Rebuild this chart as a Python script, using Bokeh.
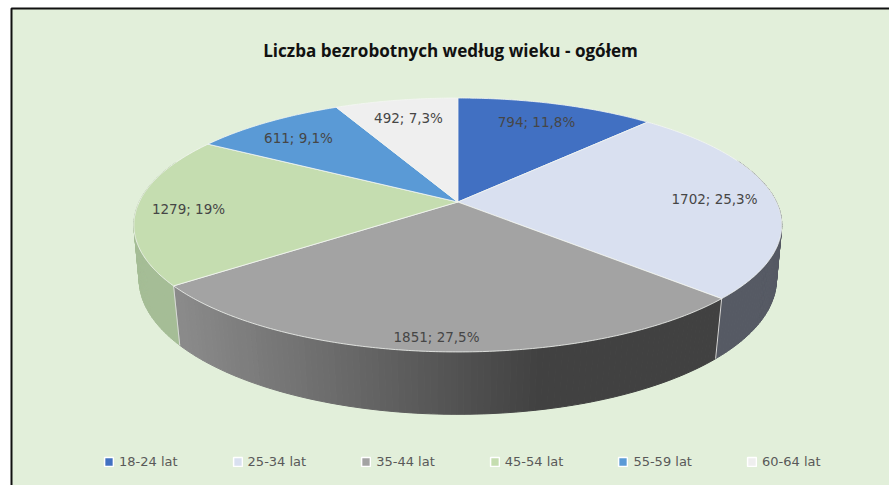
import math
from bokeh.plotting import figure
from bokeh.models import Range1d, Legend, LegendItem
from bokeh.core.properties import value
from bokeh.embed import file_html
from bokeh.resources import INLINE

# ---- data
title = "Liczba bezrobotnych według wieku - ogółem"
categories = ["18-24 lat", "25-34 lat", "35-44 lat", "45-54 lat", "55-59 lat", "60-64 lat"]
counts = [794, 1702, 1851, 1279, 611, 492]
percents = ["11,8%", "25,3%", "27,5%", "19%", "9,1%", "7,3%"]

# ---- styles / layout
top_colors = ["#4170C2", "#D9E0F0", "#A3A3A3", "#C5DDB0", "#5A9AD6", "#EFEFEF"]
wall_colors = ["#2F5290", "#565A64", "#5A5A5A", "#A5BD96", "#3F72A0", "#B0B0B0"]
label_x = [536, 714, 436, 188, 298, 408]
label_y = [121, 198, 336, 208, 137, 117]
BG = "#E2EFDA"
W, H = 889, 485

TOP = dict(cx=457.3, cy=201.5, A=318.6, B=122.8, a=0.181)
LOW = dict(cx=457.3, cy=256.0, A=314.0, B=131.0, a=0.170)


def project(deg, d):
    """Clockwise angle from 12 o'clock on the disc -> page pixel, in perspective."""
    t = math.radians(deg)
    u, v = math.sin(t), math.cos(t)
    w = 1 + d["a"] * v
    return d["cx"] + d["A"] * u / w, d["cy"] - d["B"] * v / w


def arc(start, stop, step=1.0):
    n = max(2, int(math.ceil((stop - start) / step)) + 1)
    return [start + (stop - start) * i / (n - 1) for i in range(n)]


def wall_color(i, x):
    if i != 2:
        return wall_colors[i]
    g = 138 - (x - 180) * (138 - 65) / (540 - 180)
    g = int(round(max(65, min(138, g))))
    return f"#{g:02x}{g:02x}{g:02x}"


p = figure(width=W, height=H, output_backend="svg", toolbar_location=None,
           x_range=Range1d(0, W), y_range=Range1d(H, 0),
           x_axis_type=None, y_axis_type=None, min_border=0,
           background_fill_color="white", border_fill_color="white", outline_line_color=None)
p.grid.visible = False

# chart area with its dark frame
p.quad(left=[11], right=[W + 5], top=[8], bottom=[H + 5],
       fill_color=BG, line_color="#111111", line_width=2)

total = sum(counts)
edges = [0.0]
for c in counts:
    edges.append(edges[-1] + 360.0 * c / total)

# side wall: narrow strips along the near rim
xs, ys, cols = [], [], []
for i in range(len(counts)):
    angles = arc(edges[i], edges[i + 1], 1.0)
    for a0, a1 in zip(angles[:-1], angles[1:]):
        if math.cos(math.radians((a0 + a1) / 2)) > 0.35:
            continue
        t0, t1 = project(a0, TOP), project(a1, TOP)
        l0, l1 = project(a0, LOW), project(a1, LOW)
        xs.append([t0[0], t1[0], l1[0], l0[0]])
        ys.append([t0[1], t1[1], l1[1], l0[1]])
        cols.append(wall_color(i, (t0[0] + t1[0]) / 2))
p.patches(xs, ys, fill_color=cols, line_color=cols, line_width=1)

# pale seams between walls
for e in edges[1:-1]:
    if math.cos(math.radians(e)) < 0:
        t, l = project(e, TOP), project(e, LOW)
        p.line([t[0], l[0]], [t[1], l[1]], line_color="#D8D8D8", line_width=1)

# top face; the legend keys are blank patches that carry a wider white outline
legend_items = []
nan = float("nan")
for i, cat in enumerate(categories):
    pts = [project(a, TOP) for a in arc(edges[i], edges[i + 1], 0.5)]
    px = [TOP["cx"]] + [q[0] for q in pts]
    py = [TOP["cy"]] + [q[1] for q in pts]
    p.patch(px, py, fill_color=top_colors[i], line_color="#F4F6F2", line_width=0.8)
    key = p.patch([nan, nan], [nan, nan], fill_color=top_colors[i], line_color="#FFFFFF", line_width=1.5)
    legend_items.append(LegendItem(label=cat, renderers=[key]))

# data labels
p.text(label_x, label_y,
       text=[f"{c}; {s}" for c, s in zip(counts, percents)],
       text_font=value("DejaVu Sans"), text_font_size="13.5px", text_color="#464646",
       text_align="center", text_baseline="middle")

# title
p.text([450], [50], text=[title], text_font=value("Open Sans"), text_font_style="bold",
       text_font_size="17.1px", text_color="#111111", text_align="center", text_baseline="middle")

legend = Legend(items=legend_items, orientation="horizontal", location=(103, 16),
                background_fill_alpha=0, border_line_color=None,
                glyph_width=11, glyph_height=11, label_standoff=5, spacing=54,
                padding=0, margin=0, label_text_font="DejaVu Sans", label_text_font_size="13px",
                label_text_color="#595959", label_height=16)
p.add_layout(legend, "center")

open("out.html", "w").write(file_html(p, INLINE))
